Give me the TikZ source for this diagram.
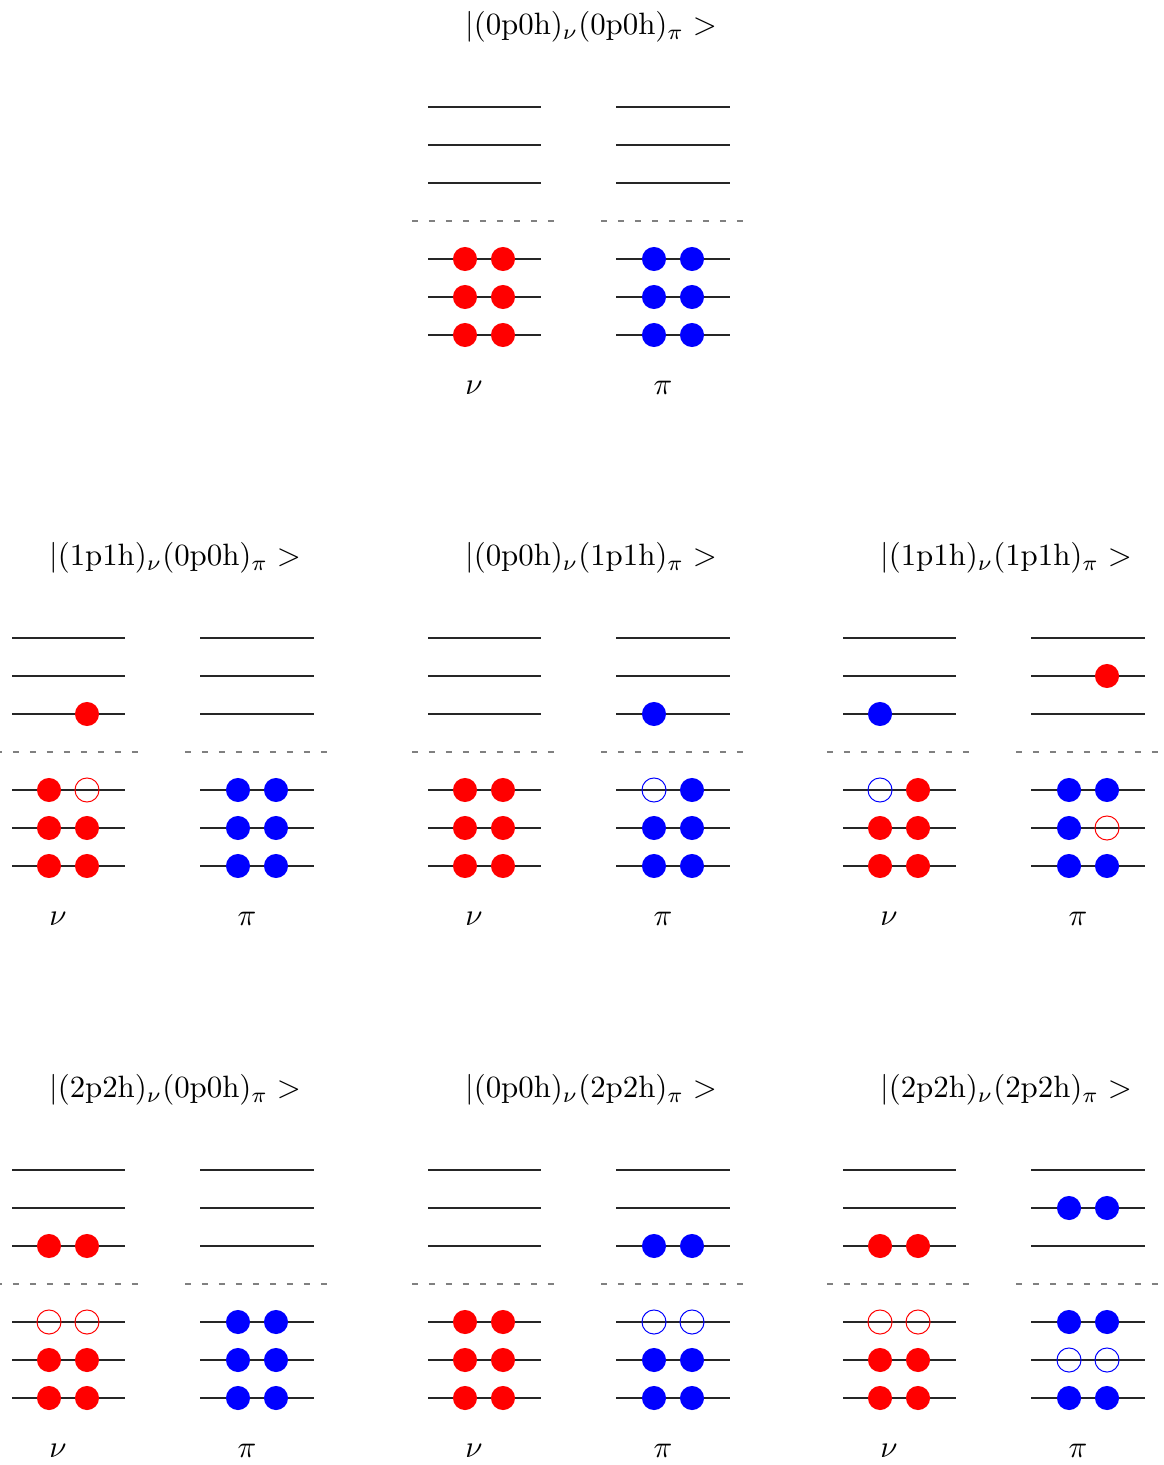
\documentclass[tikz,border=0pt]{standalone}
\usetikzlibrary{positioning}

\begin{document}
\begin{tikzpicture}[x=0.324pt, y=-0.324pt,
  level/.style={draw=black!85, line width=0.42pt},
  fermi/.style={draw=gray, line width=0.55pt, dash pattern=on 2pt off 3.5pt},
  nucleon/.style={circle, inner sep=0pt, minimum size=7.8pt},
  npart/.style={nucleon, fill=red},
  ppart/.style={nucleon, fill=blue},
  nhole/.style={nucleon, draw=red, line width=0.32pt},
  phole/.style={nucleon, draw=blue, line width=0.32pt},
  ket/.style={inner sep=0pt},
  iso/.style={inner sep=0pt}]
  \useasboundingbox (0,0) rectangle (1163,1465);

  % panels: origin x, first level y, name, configurations, full core levels
  \foreach \px/\py/\pn/\nc/\pc/\nfull/\pfull in {
      428/107/a/0p0h/0p0h/{4,5,6}/{4,5,6},
      12/638/b/1p1h/0p0h/{5,6}/{4,5,6},
      428/638/c/0p0h/1p1h/{4,5,6}/{5,6},
      843/638/d/1p1h/1p1h/{5,6}/{6},
      12/1170/e/2p2h/0p0h/{5,6}/{4,5,6},
      428/1170/f/0p0h/2p2h/{4,5,6}/{5,6},
      843/1170/g/2p2h/2p2h/{5,6}/{4,6}} {
    \foreach \k in {0,1,2,4,5,6} {
      \draw[level] (\px,\py+38*\k) -- ++(113,0);
      \draw[level] (\px+188,\py+38*\k) -- ++(114,0);
    }
    \draw[fermi] (\px-16,\py+114) -- ++(144,0);
    \draw[fermi] (\px+173,\py+114) -- ++(144,0);
    \node[ket] (\pn-ket) at (\px+163,\py-80)
      {$|(\mathrm{\nc})_\nu(\mathrm{\pc})_\pi >$};
    \node[iso] (\pn-nu) at (\px+46,\py+281) {$\nu$};
    \node[iso] (\pn-pi) at (\px+235,\py+281) {$\pi$};
    \foreach \k in \nfull {
      \node[npart] (\pn-n1-\k) at (\px+37,\py+38*\k) {};
      \node[npart] (\pn-n2-\k) at (\px+75,\py+38*\k) {};
    }
    \foreach \k in \pfull {
      \node[ppart] (\pn-p1-\k) at (\px+226,\py+38*\k) {};
      \node[ppart] (\pn-p2-\k) at (\px+264,\py+38*\k) {};
    }
  }

  % |(1p1h)(0p0h)>
  \node[npart] (b-n2-2) at (87,714) {};
  \node[npart] (b-n1-4) at (49,790) {};
  \node[nhole] (b-n2-4) at (87,790) {};

  % |(0p0h)(1p1h)>
  \node[ppart] (c-p1-2) at (654,714) {};
  \node[phole] (c-p1-4) at (654,790) {};
  \node[ppart] (c-p2-4) at (692,790) {};

  % |(1p1h)(1p1h)>
  \node[ppart] (d-n1-2) at (880,714) {};
  \node[phole] (d-n1-4) at (880,790) {};
  \node[npart] (d-n2-4) at (918,790) {};
  \node[npart] (d-p2-1) at (1107,676) {};
  \node[ppart] (d-p1-4) at (1069,790) {};
  \node[ppart] (d-p2-4) at (1107,790) {};
  \node[ppart] (d-p1-5) at (1069,828) {};
  \node[nhole] (d-p2-5) at (1107,828) {};

  % |(2p2h)(0p0h)>
  \node[npart] (e-n1-2) at (49,1246) {};
  \node[npart] (e-n2-2) at (87,1246) {};
  \node[nhole] (e-n1-4) at (49,1322) {};
  \node[nhole] (e-n2-4) at (87,1322) {};

  % |(0p0h)(2p2h)>
  \node[ppart] (f-p1-2) at (654,1246) {};
  \node[ppart] (f-p2-2) at (692,1246) {};
  \node[phole] (f-p1-4) at (654,1322) {};
  \node[phole] (f-p2-4) at (692,1322) {};

  % |(2p2h)(2p2h)>
  \node[npart] (g-n1-2) at (880,1246) {};
  \node[npart] (g-n2-2) at (918,1246) {};
  \node[nhole] (g-n1-4) at (880,1322) {};
  \node[nhole] (g-n2-4) at (918,1322) {};
  \node[ppart] (g-p1-1) at (1069,1208) {};
  \node[ppart] (g-p2-1) at (1107,1208) {};
  \node[phole] (g-p1-5) at (1069,1360) {};
  \node[phole] (g-p2-5) at (1107,1360) {};
\end{tikzpicture}
\end{document}
